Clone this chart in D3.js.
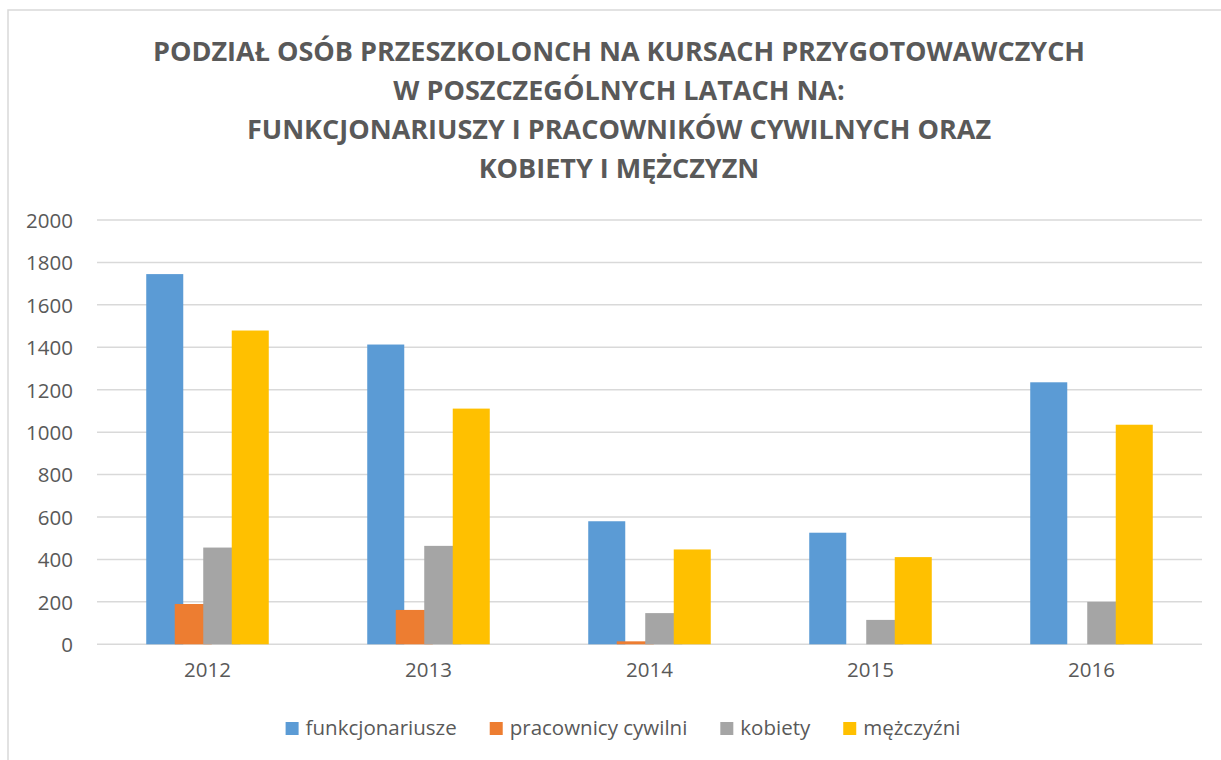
<!DOCTYPE html>
<meta charset="utf-8">
<style>
  body { margin: 0; background: #fff; }
  svg text { font-family: "Open Sans", "DejaVu Sans", sans-serif; fill: #595959; }
</style>
<script src="https://d3js.org/d3.v7.min.js"></script>
<body>
<script>
// data
var years = ["2012", "2013", "2014", "2015", "2016"];
var seriesNames = ["funkcjonariusze", "pracownicy cywilni", "kobiety", "mężczyźni"];
var funkcjonariusze = [1745, 1413, 580, 526, 1235];
var pracownicy = [190, 162, 14, 0, 0];
var kobiety = [456, 464, 147, 115, 200];
var mezczyzni = [1479, 1111, 447, 411, 1035];
var yTicks = [0, 200, 400, 600, 800, 1000, 1200, 1400, 1600, 1800, 2000];
var titleLines = [
  "PODZIAŁ OSÓB PRZESZKOLONCH NA KURSACH PRZYGOTOWAWCZYCH",
  "W POSZCZEGÓLNYCH LATACH NA:",
  "FUNKCJONARIUSZY I PRACOWNIKÓW CYWILNYCH ORAZ",
  "KOBIETY I MĘŻCZYZN"
];

var seriesValues = [funkcjonariusze, pracownicy, kobiety, mezczyzni];
var colors = ["#5b9bd5", "#ed7d31", "#a5a5a5", "#ffc000"];

var W = 1221, H = 760;
var svg = d3.select("body").append("svg")
    .attr("width", W)
    .attr("height", H);

// outer chart border (only top/left visible in the picture)
svg.append("rect")
    .attr("x", 8).attr("y", 10)
    .attr("width", W + 10).attr("height", H + 10)
    .style("fill", "none")
    .style("stroke", "#d9d9d9")
    .style("stroke-width", 1.5);

// title
var titleFont = 26;
var tl = svg.append("g").selectAll("text")
    .data(titleLines)
    .enter().append("text")
    .attr("x", 619)
    .attr("y", function(d, i) { return 61 + i * 39; })
    .attr("text-anchor", "middle")
    .style("font-size", titleFont + "px")
    .style("font-weight", "bold")
    .text(function(d) { return d; });
// squeeze to the narrower look of the original
var squeeze = 932 / tl.node().getComputedTextLength();
tl.each(function() {
  var len = this.getComputedTextLength();
  d3.select(this).attr("textLength", len * squeeze).attr("lengthAdjust", "spacingAndGlyphs");
});

// scales
var x = d3.scaleBand().domain(years).range([97, 1202]);
var y = d3.scaleLinear().domain([0, 2000]).range([644.3, 220]);

var barW = x.bandwidth() * 0.1675;
var step = barW * 0.77;
var groupW = 3 * step + barW;

// gridlines
svg.append("g")
  .selectAll("line")
  .data(yTicks)
  .enter().append("line")
    .attr("x1", 97).attr("x2", 1202)
    .attr("y1", function(d) { return y(d); })
    .attr("y2", function(d) { return y(d); })
    .style("stroke", "#d9d9d9")
    .style("stroke-width", 1.5);

// y axis labels
var yAxis = d3.axisLeft(y).tickValues(yTicks).tickFormat(d3.format("d")).tickSize(0).tickPadding(0);
var yg = svg.append("g").attr("transform", "translate(73,0)").call(yAxis);
yg.select(".domain").remove();
yg.selectAll("text")
    .style("font-size", "20.5px")
    .attr("dy", "0.36em");

// x axis labels
var xAxis = d3.axisBottom(x).tickSize(0).tickPadding(0);
var xg = svg.append("g").attr("transform", "translate(0,662)").call(xAxis);
xg.select(".domain").remove();
xg.selectAll("text")
    .style("font-size", "20.5px")
    .attr("dy", "0.71em");

// bars, drawn series by series so later ones overlap earlier ones
seriesValues.forEach(function(vals, s) {
  svg.append("g")
    .selectAll("rect")
    .data(vals)
    .enter().append("rect")
      .attr("x", function(d, i) { return x(years[i]) + (x.bandwidth() - groupW) / 2 + s * step; })
      .attr("width", barW)
      .attr("y", function(d) { return y(d); })
      .attr("height", function(d) { return y(0) - y(d); })
      .style("fill", colors[s]);
});

// legend
var legend = svg.append("g").attr("transform", "translate(0,722)");
var items = legend.selectAll("g")
    .data(seriesNames)
    .enter().append("g");
items.append("rect")
    .attr("width", 13).attr("height", 13)
    .style("fill", function(d, i) { return colors[i]; });
items.append("text")
    .attr("x", 20)
    .attr("y", 12.5)
    .style("font-size", "20.5px")
    .text(function(d) { return d; });
var offs = [], total = 0;
items.each(function(d, i) {
  var tw = d3.select(this).select("text").node().getComputedTextLength();
  offs.push(total);
  total += 20 + tw + (i < seriesNames.length - 1 ? 33 : 0);
});
var start = 623 - total / 2;
items.attr("transform", function(d, i) { return "translate(" + (start + offs[i]) + ",0)"; });
</script>
</body>
